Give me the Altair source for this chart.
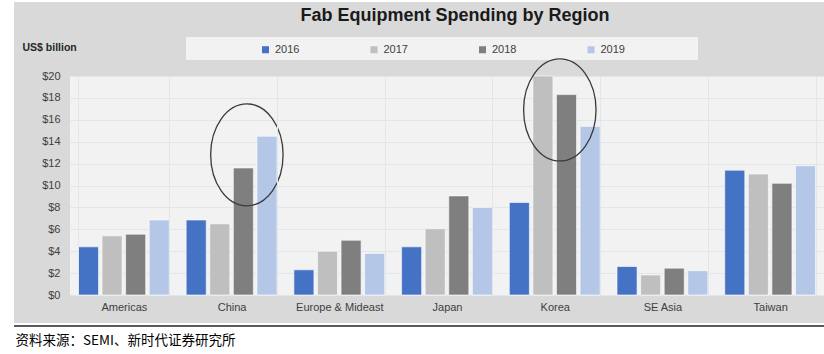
import altair as alt
import pandas as pd

regions = ["Americas", "China", "Europe & Mideast", "Japan", "Korea", "SE Asia", "Taiwan"]
years = ["2016", "2017", "2018", "2019"]
v2016 = [4.4, 6.85, 2.3, 4.4, 8.45, 2.6, 11.4]
v2017 = [5.4, 6.5, 4.0, 6.05, 20.0, 1.83, 11.05]
v2018 = [5.55, 11.6, 5.0, 9.05, 18.3, 2.45, 10.2]
v2019 = [6.85, 14.5, 3.8, 8.0, 15.4, 2.22, 11.8]
colors = ["#4472c4", "#bfbfbf", "#7f7f7f", "#b4c7e7"]
y_ticks = [0, 2, 4, 6, 8, 10, 12, 14, 16, 18, 20]

rows = []
for yr, vals in zip(years, [v2016, v2017, v2018, v2019]):
    for r, v in zip(regions, vals):
        rows.append({"Region": r, "Year": yr, "Value": v})
df = pd.DataFrame(rows)

W, H = 754, 219
FONT = "Liberation Sans"

x_scale = alt.Scale(domain=regions, paddingInner=0.157, paddingOuter=0.0785)
y_scale = alt.Scale(domain=[0, 20], nice=False)
x_axis = alt.Axis(title="资料来源：SEMI、新时代证券研究所", labelAngle=0, labelFont=FONT,
                  labelFontSize=11, labelColor="#404040", labelPadding=6,
                  ticks=False, domain=False, grid=True, tickBand="extent",
                  gridColor="#e1e5ec", gridWidth=1, zindex=1,
                  titleX=-55, titleY=45, titleAlign="left", titleBaseline="middle",
                  titleFont="Noto Sans CJK SC", titleFontSize=13.5,
                  titleFontWeight="normal", titleColor="#000000")
y_axis = alt.Axis(values=y_ticks, labelExpr="'$' + datum.value", labelFont=FONT,
                  labelFontSize=11, labelColor="#404040", labelPadding=10,
                  labelOverlap=False, tickCount=11,
                  ticks=False, domain=False, gridColor="#e1e5ec", gridWidth=1, zindex=0,
                  title="US$ billion", titleAngle=0, titleX=-48, titleY=-29,
                  titleAlign="left", titleBaseline="middle", titleFont=FONT,
                  titleFontSize=10.5, titleFontWeight="bold", titleColor="#262626")

bars = alt.Chart(df).mark_bar(stroke="#ffffff", strokeWidth=1, strokeOpacity=0.6).encode(
    x=alt.X("Region:N", sort=regions, scale=x_scale, axis=x_axis),
    xOffset=alt.XOffset("Year:N", sort=years, scale=alt.Scale(paddingInner=0.15, paddingOuter=0)),
    y=alt.Y("Value:Q", scale=y_scale, axis=y_axis),
    color=alt.Color("Year:N", sort=years, scale=alt.Scale(domain=years, range=colors),
                    legend=alt.Legend(orient="none", direction="horizontal", columns=4,
                                      legendX=190, legendY=-32, title=None, symbolType="square",
                                      symbolSize=49, symbolStrokeWidth=0, labelFont=FONT,
                                      labelFontSize=11, labelColor="#404040", columnPadding=68.5,
                                      gridAlign="all", padding=0, labelOffset=4)),
)

# decorative frame pieces
white_left = alt.Chart().mark_rect(color="#ffffff").encode(
    x=alt.value(-70), x2=alt.value(-56), y=alt.value(-76), y2=alt.value(283))
white_top = alt.Chart().mark_rect(color="#ffffff").encode(
    x=alt.value(-70), x2=alt.value(W), y=alt.value(-76), y2=alt.value(-74))
white_bottom = alt.Chart().mark_rect(color="#ffffff").encode(
    x=alt.value(-70), x2=alt.value(W), y=alt.value(247), y2=alt.value(283))
legend_box = alt.Chart().mark_rect(color="#f2f2f2").encode(
    x=alt.value(116), x2=alt.value(628), y=alt.value(-39), y2=alt.value(-16))
bottom_rule = alt.Chart().mark_rule(color="#5a5a5a", strokeWidth=2).encode(
    x=alt.value(-56), x2=alt.value(W), y=alt.value(250))
title = alt.Chart().mark_text(text="Fab Equipment Spending by Region", font=FONT, fontSize=18,
                              fontWeight="bold", color="#1a1a1a", align="center",
                              baseline="alphabetic").encode(
    x=alt.value(385), y=alt.value(-55))


def ellipse_path(shift):
    k = 0.5523
    rx = 0.71
    c = lambda v: f"{v + shift:.4f}"
    return (f"M {c(0)} -1 C {c(rx * k)} -1 {c(rx)} {-k} {c(rx)} 0 "
            f"C {c(rx)} {k} {c(rx * k)} 1 {c(0)} 1 "
            f"C {c(-rx * k)} 1 {c(-rx)} {k} {c(-rx)} 0 "
            f"C {c(-rx)} {-k} {c(-rx * k)} -1 {c(0)} -1 Z")


hl_regions = ["China", "Korea"]
hl_centers = [12.8, 16.9]
hl_shift = [0.30, 0.10]
ellipses = []
for r, cval, s in zip(hl_regions, hl_centers, hl_shift):
    d = pd.DataFrame({"Region": [r], "Value": [cval]})
    ellipses.append(
        alt.Chart(d).mark_point(shape=ellipse_path(s), filled=False, stroke="#3a3a3a",
                                strokeWidth=1.3, size=10404, opacity=1).encode(
            x=alt.X("Region:N", sort=regions, scale=x_scale, axis=x_axis),
            y=alt.Y("Value:Q", scale=y_scale, axis=y_axis),
        )
    )

chart = alt.layer(
    white_left, white_top, white_bottom, legend_box, bars, *ellipses, bottom_rule, title
).properties(
    width=W, height=H,
    padding={"left": 70, "top": 76, "right": 0, "bottom": 59},
    autosize=alt.AutoSizeParams(type="none"),
    background="#d9d9d9",
).configure_view(fill="#f2f2f2", stroke=None)

chart.save("out.html", embed_options={"renderer": "svg", "actions": False})
